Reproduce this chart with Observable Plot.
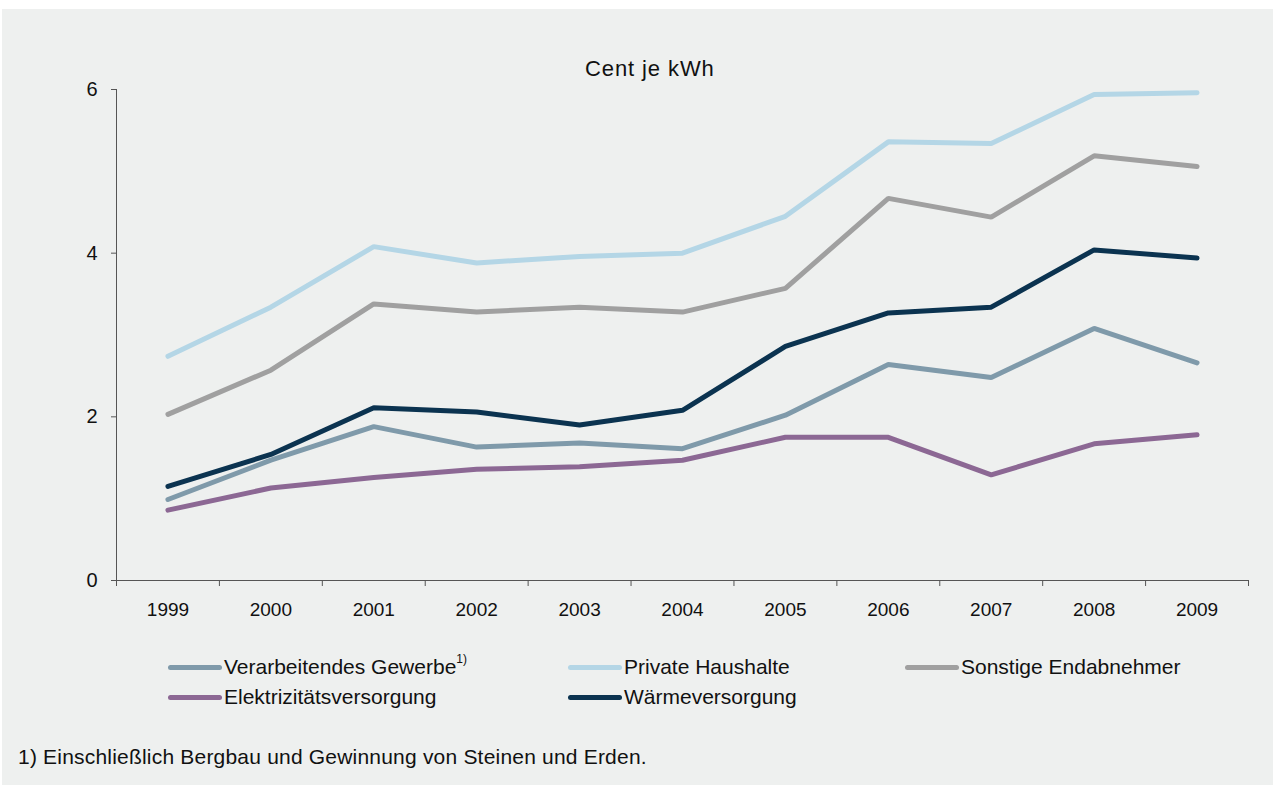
<!DOCTYPE html>
<html>
<head>
<meta charset="utf-8">
<script src="https://cdn.jsdelivr.net/npm/d3@7"></script>
<script src="https://cdn.jsdelivr.net/npm/@observablehq/plot@0.6"></script>
<style>
  html, body { margin: 0; padding: 0; background: #ffffff; }
  body { width: 1273px; height: 785px; position: relative; overflow: hidden;
         font-family: "Liberation Sans", Arial, sans-serif; color: #111; }
  #panel { position: absolute; left: 2px; top: 9px; width: 1271px; height: 776px; background: #eef0ef; }
  #chart { position: absolute; left: 0; top: 0; }
  #title { position: absolute; left: 585px; top: 56px; line-height: 26px; font-size: 22px; letter-spacing: 0.9px; white-space: nowrap; }
  .leg { position: absolute; font-size: 21px; line-height: 24px; white-space: nowrap; display: flex; align-items: center; }
  .sw { width: 54px; height: 5px; border-radius: 3px; margin-right: 2px; }
  sup { font-size: 12px; position: relative; top: -3px; line-height: 0; }
  #foot { position: absolute; left: 18px; top: 745px; font-size: 21px; line-height: 24px; letter-spacing: 0.2px; white-space: nowrap; }
</style>
</head>
<body>
<div id="panel"></div>
<div id="chart"></div>
<div id="title">Cent je kWh</div>
<div id="legend"></div>
<div id="foot">1) Einschließlich Bergbau und Gewinnung von Steinen und Erden.</div>
<script>
const years = [1999, 2000, 2001, 2002, 2003, 2004, 2005, 2006, 2007, 2008, 2009];
const yTicks = [0, 2, 4, 6];
const seriesNames = ["Verarbeitendes Gewerbe", "Private Haushalte", "Sonstige Endabnehmer", "Elektrizitätsversorgung", "Wärmeversorgung"];
const seriesColors = ["#7f9aaa", "#b4d6e6", "#a0a0a0", "#8c6894", "#0b3350"];
const verarbeitendesGewerbe = [0.99, 1.47, 1.88, 1.63, 1.68, 1.61, 2.02, 2.64, 2.48, 3.08, 2.66];
const privateHaushalte = [2.74, 3.34, 4.08, 3.88, 3.96, 4.00, 4.45, 5.36, 5.34, 5.94, 5.96];
const sonstigeEndabnehmer = [2.03, 2.57, 3.38, 3.28, 3.34, 3.28, 3.57, 4.67, 4.44, 5.19, 5.06];
const elektrizitaetsversorgung = [0.86, 1.13, 1.26, 1.36, 1.39, 1.47, 1.75, 1.75, 1.29, 1.67, 1.78];
const waermeversorgung = [1.15, 1.54, 2.11, 2.06, 1.90, 2.08, 2.86, 3.27, 3.34, 4.04, 3.94];

const seriesValues = [verarbeitendesGewerbe, privateHaushalte, sonstigeEndabnehmer, elektrizitaetsversorgung, waermeversorgung];
const drawOrder = [3, 0, 4, 2, 1];
const rows = drawOrder.flatMap(i => years.map((yr, j) => ({series: seriesNames[i], year: yr, value: seriesValues[i][j]})));
const boundaries = [...years.map(y => y - 0.5), years[years.length - 1] + 0.5];

const chart = Plot.plot({
  width: 1273,
  height: 640,
  marginLeft: 116,
  marginRight: 25,
  marginTop: 89,
  marginBottom: 60,
  style: { background: "transparent", fontFamily: "Liberation Sans, Arial, sans-serif", fontSize: "19px", color: "#111" },
  x: { type: "linear", domain: [boundaries[0], boundaries[boundaries.length - 1]], axis: null, label: null },
  y: { type: "linear", domain: [0, 6], axis: null, label: null },
  color: { domain: seriesNames, range: seriesColors },
  marks: [
    Plot.ruleY([0], { stroke: "#555", strokeWidth: 1 }),
    Plot.ruleX([boundaries[0]], { y1: 0, y2: 6, stroke: "#555", strokeWidth: 1 }),
    Plot.axisX(boundaries, { tickSize: 6, tickFormat: () => "", stroke: "#555", label: null }),
    Plot.axisX(years, { tickSize: 0, tickPadding: 22, tickFormat: d => String(d), fontSize: 19, label: null }),
    Plot.axisY(yTicks, { tickSize: 5, tickPadding: 14, tickFormat: d => String(d), stroke: "#555", fontSize: 20, label: null }),
    Plot.line(rows, { x: "year", y: "value", z: "series", stroke: "series", strokeWidth: 5, strokeLinecap: "round", strokeLinejoin: "miter" })
  ]
});
document.getElementById("chart").appendChild(chart);

const legendPos = [
  { left: 168, top: 655 }, { left: 568, top: 655 }, { left: 905, top: 655 },
  { left: 168, top: 685 }, { left: 568, top: 685 }
];
const legend = document.getElementById("legend");
seriesNames.forEach((name, i) => {
  const d = document.createElement("div");
  d.className = "leg";
  d.style.left = legendPos[i].left + "px";
  d.style.top = legendPos[i].top + "px";
  const sw = document.createElement("div");
  sw.className = "sw";
  sw.style.background = seriesColors[i];
  d.appendChild(sw);
  const t = document.createElement("span");
  t.innerHTML = name + (i === 0 ? "<sup>1)</sup>" : "");
  d.appendChild(t);
  legend.appendChild(d);
});
</script>
</body>
</html>
